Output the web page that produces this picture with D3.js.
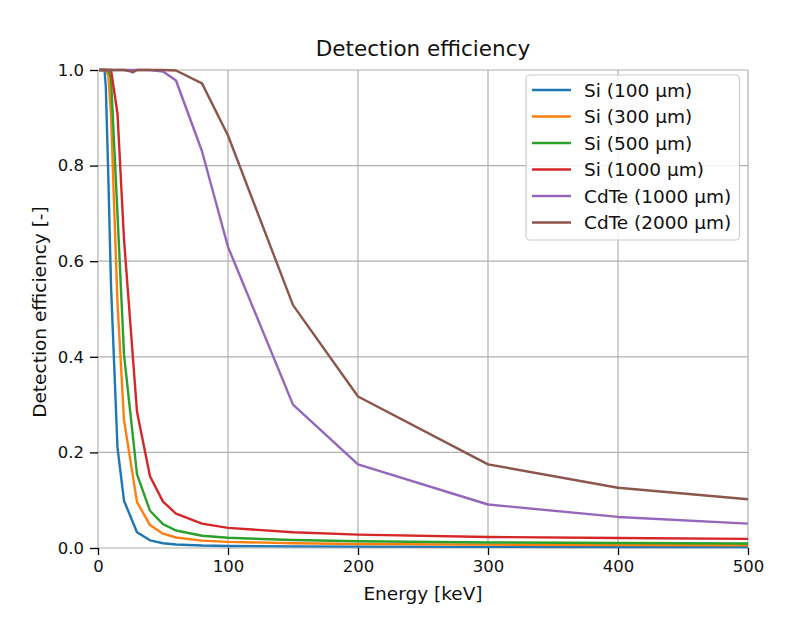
<!DOCTYPE html>
<html><head><meta charset="utf-8">
<script src="https://cdn.jsdelivr.net/npm/d3@7/dist/d3.min.js"></script>
<style>body{margin:0;background:#fff}svg{display:block;font-family:"DejaVu Sans",sans-serif}</style>
</head><body><svg id="c" width="798" height="621"></svg>
<script>
const energySi = [1,2,3,4,5,6,8,10,15,20,30,40,50,60,80,100,150,200,300,400,500];
const si100  = [1,1,1,1,1,0.966,0.77,0.55,0.21,0.099,0.033,0.016,0.010,0.0074,0.0052,0.0043,0.0034,0.0029,0.0023,0.0021,0.0019];
const si300  = [1,1,1,1,1,1,0.988,0.907,0.513,0.268,0.096,0.048,0.030,0.022,0.0155,0.0128,0.010,0.0085,0.0070,0.0062,0.0057];
const si500  = [1,1,1,1,1,1,0.999,0.981,0.699,0.405,0.154,0.078,0.050,0.0366,0.0256,0.0213,0.0166,0.0142,0.0116,0.0104,0.0095];
const si1000 = [1,1,1,1,1,1,1,1,0.909,0.646,0.285,0.150,0.097,0.072,0.051,0.042,0.033,0.028,0.023,0.021,0.019];
const energyCdTe = [1,2,3,4,5,6,8,10,15,20,25,26.7,30,40,50,60,80,100,150,200,300,400,500];
const cdte1000 = [1,1,1,1,1,1,1,1,1,1,1,1,1,1,0.997,0.978,0.83,0.63,0.30,0.175,0.091,0.065,0.051];
const cdte2000 = [1,1,1,1,1,1,1,1,1,1,0.997,0.995,1,1,1,0.999,0.972,0.863,0.508,0.317,0.175,0.126,0.102];
const seriesNames = ["Si (100 µm)","Si (300 µm)","Si (500 µm)","Si (1000 µm)","CdTe (1000 µm)","CdTe (2000 µm)"];
const colors = ["#1f77b4","#ff7f0e","#2ca02c","#d62728","#9467bd","#8c564b"];
const xTicks = [0,100,200,300,400,500];
const yTicks = [0,0.2,0.4,0.6,0.8,1.0];

const series = [
  {x: energySi, y: si100}, {x: energySi, y: si300}, {x: energySi, y: si500},
  {x: energySi, y: si1000}, {x: energyCdTe, y: cdte1000}, {x: energyCdTe, y: cdte2000}
];

const svg = d3.select("#c");
const L = 98, R = 748, T = 70, B = 548;
const x = d3.scaleLinear().domain([0,500]).range([L,R]);
const y = d3.scaleLinear().domain([0,1]).range([B,T]);

// grid
svg.append("g").selectAll("line").data(xTicks).join("line")
  .attr("x1", d=>x(d)).attr("x2", d=>x(d)).attr("y1", T).attr("y2", B)
  .attr("stroke","#b0b0b0").attr("stroke-width",1.2);
svg.append("g").selectAll("line").data(yTicks).join("line")
  .attr("x1", L).attr("x2", R).attr("y1", d=>y(d)).attr("y2", d=>y(d))
  .attr("stroke","#b0b0b0").attr("stroke-width",1.2);

// axes
const xAxis = d3.axisBottom(x).tickValues(xTicks).tickFormat(d3.format("d")).tickSize(7).tickPadding(5);
const yAxis = d3.axisLeft(y).tickValues(yTicks).tickFormat(d3.format(".1f")).tickSize(8).tickPadding(6);
const gx = svg.append("g").attr("transform",`translate(0,${B})`).call(xAxis);
const gy = svg.append("g").attr("transform",`translate(${L},0)`).call(yAxis);
[gx,gy].forEach(g=>{
  g.select(".domain").remove();
  g.selectAll(".tick line").attr("stroke","#000").attr("stroke-width",1.3);
  g.selectAll(".tick text").attr("fill","#111").style("font-size","16.5px").style("font-family","DejaVu Sans");
});

// lines
const line = d3.line().x(d=>x(d[0])).y(d=>y(d[1]));
series.forEach((s,i)=>{
  svg.append("path").datum(s.x.map((e,j)=>[e,s.y[j]]))
    .attr("d", line).attr("fill","none").attr("stroke", colors[i])
    .attr("stroke-width",2.4).attr("stroke-linejoin","round");
});

// title & labels
svg.append("text").attr("x",(L+R)/2).attr("y",56).attr("text-anchor","middle")
  .style("font-size","21.5px").attr("fill","#111").text("Detection efficiency");
svg.append("text").attr("x",(L+R)/2).attr("y",600).attr("text-anchor","middle")
  .style("font-size","18.5px").attr("fill","#111").text("Energy [keV]");
svg.append("text").attr("transform",`translate(46,${(T+B)/2+3}) rotate(-90)`).attr("text-anchor","middle")
  .style("font-size","18.5px").attr("fill","#111").text("Detection efficiency [-]");

// legend
const lg = svg.append("g");
lg.append("rect").attr("x",526).attr("y",75).attr("width",213.5).attr("height",165)
  .attr("rx",4).attr("fill","#fff").attr("fill-opacity",0.85).attr("stroke","#cccccc").attr("stroke-width",1.2);
seriesNames.forEach((n,i)=>{
  const yy = 90 + i*26.5;
  lg.append("line").attr("x1",532).attr("x2",571).attr("y1",yy).attr("y2",yy)
    .attr("stroke",colors[i]).attr("stroke-width",2.4);
  lg.append("text").attr("x",584).attr("y",yy).attr("dy","0.36em")
    .style("font-size","18.5px").attr("fill","#111").text(n);
});
</script></body></html>
